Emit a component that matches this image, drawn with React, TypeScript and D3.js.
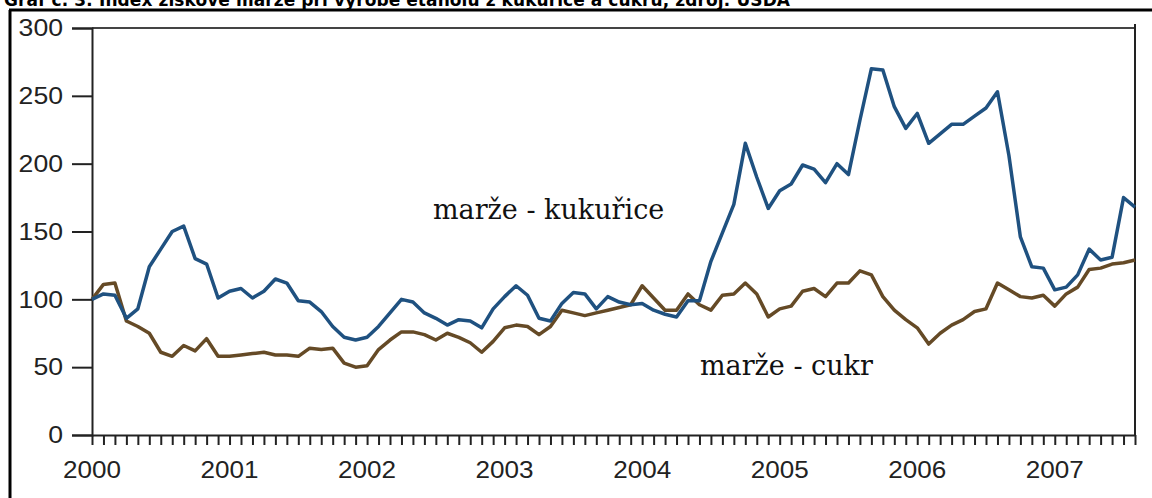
import { useEffect, useRef } from "react";
import * as d3 from "d3";

// monthly index values, Jan 2000 .. Aug 2007
const corn = [
  100, 104, 103, 86, 93, 124, 137, 150, 154, 130, 126, 101,
  106, 108, 101, 106, 115, 112, 99, 98, 91, 80, 72, 70,
  72, 80, 90, 100, 98, 90, 86, 81, 85, 84, 79, 93,
  102, 110, 103, 86, 84, 97, 105, 104, 93, 102, 98, 96,
  97, 92, 89, 87, 99, 99, 128, 149, 170, 215, 190, 167,
  180, 185, 199, 196, 186, 200, 192, 232, 270, 269, 242, 226,
  237, 215, 222, 229, 229, 235, 241, 253, 206, 146, 124, 123,
  107, 109, 118, 137, 129, 131, 175, 168,
];
const sugar = [
  100, 111, 112, 84, 80, 75, 61, 58, 66, 62, 71, 58,
  58, 59, 60, 61, 59, 59, 58, 64, 63, 64, 53, 50,
  51, 63, 70, 76, 76, 74, 70, 75, 72, 68, 61, 69,
  79, 81, 80, 74, 80, 92, 90, 88, 90, 92, 94, 96,
  110, 101, 92, 92, 104, 96, 92, 103, 104, 112, 104, 87,
  93, 95, 106, 108, 102, 112, 112, 121, 118, 102, 92, 85,
  79, 67, 75, 81, 85, 91, 93, 112, 107, 102, 101, 103,
  95, 104, 109, 122, 123, 126, 127, 129,
];
const years = ["2000", "2001", "2002", "2003", "2004", "2005", "2006", "2007"];
const yTicks = [0, 50, 100, 150, 200, 250, 300];
const title =
  "Graf č. 3: Index ziskové marže při výrobě etanolu z kukuřice a cukru, zdroj: USDA";

const App = () => {
  const svgRef = useRef(null);
  const width = 1152;
  const height = 498;

  useEffect(() => {
    const svg = d3.select(svgRef.current);
    svg.selectAll("*").remove();

    const x = d3.scaleLinear().domain([0, 91]).range([92, 1135]);
    const y = d3.scaleLinear().domain([0, 300]).range([435, 28]);

    svg.append("rect").attr("width", width).attr("height", height).attr("fill", "#fff");

    // title, cut off at the top as in the source image
    svg
      .append("text")
      .attr("x", 4)
      .attr("y", 6)
      .attr("font-family", "DejaVu Sans")
      .attr("font-weight", "bold")
      .attr("font-size", 17)
      .attr("textLength", 786)
      .attr("fill", "#000")
      .text(title);

    // outer frame
    svg.append("line").attr("x1", 9).attr("x2", width).attr("y1", 10).attr("y2", 10)
      .attr("stroke", "#000").attr("stroke-width", 3);
    svg.append("line").attr("x1", 10).attr("x2", 10).attr("y1", 10).attr("y2", height)
      .attr("stroke", "#000").attr("stroke-width", 3);

    // top and right box lines
    svg.append("line").attr("x1", x(0)).attr("x2", x(91)).attr("y1", y(300)).attr("y2", y(300))
      .attr("stroke", "#444").attr("stroke-width", 2);
    svg.append("line").attr("x1", x(91)).attr("x2", x(91)).attr("y1", y(300) - 4).attr("y2", y(0))
      .attr("stroke", "#222").attr("stroke-width", 2);

    // y axis
    const yAxis = d3.axisLeft(y).tickValues(yTicks).tickSize(20).tickPadding(9);
    const gy = svg.append("g").attr("transform", `translate(${x(0)},0)`).call(yAxis);
    gy.select(".domain").attr("stroke", "#222").attr("stroke-width", 2);
    gy.selectAll(".tick line").attr("stroke", "#222").attr("stroke-width", 2);
    gy.selectAll(".tick text")
      .attr("font-family", "Liberation Sans, Arial")
      .attr("font-size", 24)
      .attr("fill", "#222")
      .attr("lengthAdjust", "spacingAndGlyphs")
      .attr("textLength", (d) => String(d).length * 14.8);

    // x axis with monthly ticks
    const xAxis = d3.axisBottom(x).tickValues(d3.range(0, 92)).tickSize(10).tickSizeOuter(0)
      .tickFormat(() => "");
    const gx = svg.append("g").attr("transform", `translate(0,${y(0)})`).call(xAxis);
    gx.select(".domain").attr("stroke", "#222").attr("stroke-width", 2);
    gx.selectAll(".tick line").attr("stroke", "#222").attr("stroke-width", 2);

    svg
      .append("g")
      .selectAll("text")
      .data(years)
      .enter()
      .append("text")
      .attr("x", (d, i) => x(i * 12))
      .attr("y", 478)
      .attr("text-anchor", "middle")
      .attr("font-family", "Liberation Sans, Arial")
      .attr("font-size", 24)
      .attr("fill", "#222")
      .attr("lengthAdjust", "spacingAndGlyphs")
      .attr("textLength", 58)
      .text((d) => d);

    const line = d3
      .line()
      .x((d, i) => x(i))
      .y((d) => y(d));

    svg.append("path").datum(sugar).attr("d", line).attr("fill", "none")
      .attr("stroke", "#654a26").attr("stroke-width", 3.5).attr("stroke-linejoin", "round");
    svg.append("path").datum(corn).attr("d", line).attr("fill", "none")
      .attr("stroke", "#1f5180").attr("stroke-width", 3.5).attr("stroke-linejoin", "round");

    // series labels
    svg.append("text").attr("x", 433).attr("y", 219)
      .attr("font-family", "DejaVu Serif").attr("font-size", 27).attr("fill", "#111")
      .text("marže - kukuřice");
    svg.append("text").attr("x", 700).attr("y", 375)
      .attr("font-family", "DejaVu Serif").attr("font-size", 27).attr("fill", "#111")
      .text("marže - cukr");
  }, []);

  return (
    <>
      <style>{`body{margin:0}`}</style>
      <svg ref={svgRef} width={width} height={height} style={{ display: "block" }}></svg>
    </>
  );
};

export default App;
